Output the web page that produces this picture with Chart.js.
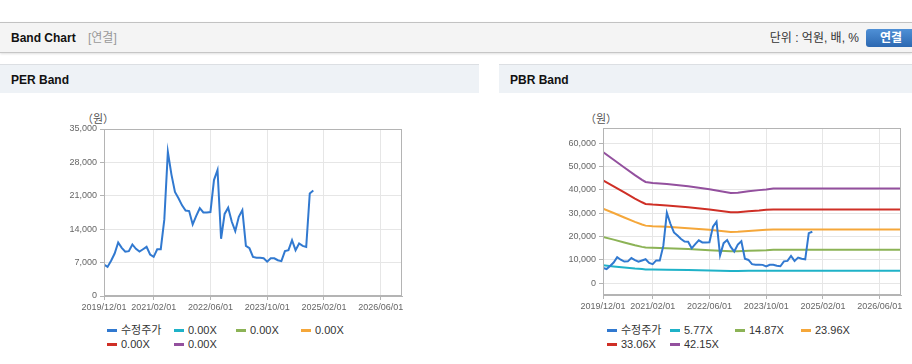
<!DOCTYPE html>
<html>
<head>
<meta charset="utf-8">
<script src="https://cdn.jsdelivr.net/npm/chart.js@4.4.1/dist/chart.umd.min.js"></script>
<style>
    body { margin: 0; width: 912px; height: 364px; position: relative; overflow: hidden; background: #fff;
           font-family: "Liberation Sans", Arial, "Noto Sans CJK KR", sans-serif; color: #222; }
    .abs { position: absolute; }
    .hdr { left: 0; top: 22px; width: 912px; height: 29px; background: #f4f4f4;
           border-top: 1px solid #c2c2c2; border-bottom: 1px solid #c6c6c6; box-shadow: 0 1px 2px rgba(0,0,0,0.12); }
    .hdr .ttl { position: absolute; left: 11px; top: 0; line-height: 30px; font-size: 12px; font-weight: bold; color: #111; }
    .hdr .sub { position: absolute; left: 88px; top: 0; line-height: 30px; font-size: 12px; color: #999; }
    .hdr .unit { position: absolute; right: 53px; top: 0; line-height: 30px; font-size: 12px; color: #333; }
    .hdr .btn { position: absolute; left: 866px; top: 6px; width: 50px; height: 18px; border-radius: 3px;
                background: linear-gradient(#4f90d6, #2c68b1); color: #fff; font-size: 12px; font-weight: bold;
                line-height: 18px; text-align: left; padding-left: 14px; box-sizing: border-box; }
    .ph { top: 64px; height: 28px; background: #eef2f6; border-top: 1px solid #dcdfe3; }
    .ph span { position: absolute; left: 11px; top: 0; line-height: 30px; font-size: 12px; font-weight: bold; color: #111; }
    .unitlbl { font-size: 11px; color: #555; top: 110px; }
    .lg { display: grid; font-size: 11px; color: #333; }
    .lg div { height: 14px; line-height: 14px; white-space: nowrap; }
    .lg i { display: inline-block; width: 10px; height: 3px; margin-right: 4px; vertical-align: middle; position: relative; top: -1px; }
</style>
</head>
<body>
<div class="abs hdr">
    <span class="ttl">Band Chart</span><span class="sub">[연결]</span>
    <span class="unit">단위 : 억원, 배, %</span>
    <div class="btn">연결</div>
</div>
<div class="abs ph" style="left:0; width:479px;"><span>PER Band</span></div>
<div class="abs ph" style="left:499px; width:413px;"><span>PBR Band</span></div>

<div class="abs unitlbl" style="left:82px;">（원）</div>
<div class="abs unitlbl" style="left:585px;">（원）</div>

<canvas id="perChart" class="abs" width="360" height="216" style="left:60px; top:100px;"></canvas>
<canvas id="pbrChart" class="abs" width="353" height="215" style="left:559px; top:100px;"></canvas>

<div id="perLegend" class="abs lg" style="left:107px; top:323px; grid-template-columns: 67px 62px 65px 65px;"></div>
<div id="pbrLegend" class="abs lg" style="left:607px; top:323px; grid-template-columns: 63px 65px 66px 66px;"></div>

<script>
// x axis = months since 2019/12
const xTickMonths = [0, 14, 30, 46, 62, 78];
const xTickLabels = ["2019/12/01", "2021/02/01", "2022/06/01", "2023/10/01", "2025/02/01", "2026/06/01"];

// 수정주가, monthly from 2019/12 to 2024/11
const price = [
    6600, 6100, 7400, 8900, 11200, 10100, 9300, 9400, 10800, 9900,
    9300, 9800, 10300, 8700, 8200, 9800, 9800, 16000, 30200, 25500,
    21800, 20500, 19000, 17900, 17800, 15000, 16800, 18400, 17500, 17500,
    17600, 24300, 26400, 12000, 17200, 18500, 15600, 13600, 16600, 18000,
    10500, 10000, 8200, 8000, 8000, 7900, 7200, 7900, 7900, 7500,
    7300, 9400, 9600, 11700, 9600, 11000, 10500, 10300, 21500, 22100
];

// PBR band lines, read at these months
const bandMonths = [0, 3, 6, 9, 11, 12, 14, 18, 24, 30, 36, 38, 41, 44, 46, 48, 84];
const pbr577 = [7700, 7200, 6800, 6300, 6100, 5900, 5900, 5800, 5700, 5500, 5300, 5300, 5400, 5400, 5400, 5400, 5400];
const pbr1487 = [19800, 18700, 17500, 16300, 15600, 15300, 15200, 15000, 14700, 14200, 13700, 13700, 13900, 14100, 14200, 14400, 14400];
const pbr2396 = [32000, 30100, 28200, 26300, 25200, 24700, 24400, 24200, 23600, 22900, 22000, 22100, 22400, 22700, 22900, 23000, 23000];
const pbr3306 = [44100, 41500, 38900, 36300, 34700, 34000, 33700, 33300, 32600, 31600, 30400, 30400, 30900, 31200, 31500, 31600, 31600];
const pbr4215 = [56200, 52900, 49600, 46300, 44300, 43400, 43000, 42500, 41600, 40300, 38700, 38800, 39400, 39900, 40200, 40600, 40600];

const perBandLabels = ["0.00X", "0.00X", "0.00X", "0.00X", "0.00X"];
const pbrBandLabels = ["5.77X", "14.87X", "23.96X", "33.06X", "42.15X"];

const perYTicks = [0, 7000, 14000, 21000, 28000, 35000];
const pbrYTicks = [0, 10000, 20000, 30000, 40000, 50000, 60000];

const colors = ["#3179d0", "#1fb2c8", "#8cb356", "#f5a73a", "#cf2f26", "#93509e"];
const fontFamily = "'Liberation Sans', Arial, sans-serif";

const toPoints = (months, values) => values.map((v, i) => ({ x: months[i], y: v }));
const priceMonths = price.map((v, i) => i);

// frame around the plot area
const plotBorder = {
    id: "plotBorder",
    afterDraw(chart) {
        const { ctx, chartArea: a } = chart;
        ctx.save();
        ctx.strokeStyle = "#b4b4b4";
        ctx.lineWidth = 1;
        ctx.strokeRect(Math.round(a.left) + 0.5, Math.round(a.top) + 0.5,
            Math.round(a.right - a.left) - 1, Math.round(a.bottom - a.top) - 1);
        ctx.restore();
    }
};

function makeChart(id, bandLabels, bandValues, yMin, yMax, yTicks, padTop, padRight) {
    const datasets = [{
        label: "수정주가",
        data: toPoints(priceMonths, price),
        borderColor: colors[0]
    }];
    bandLabels.forEach((lbl, i) => {
        datasets.push({
            label: lbl,
            data: bandValues ? toPoints(bandMonths, bandValues[i]) : [],
            borderColor: colors[i + 1]
        });
    });
    datasets.forEach(d => {
        d.borderWidth = 2;
        d.pointRadius = 0;
        d.tension = 0;
        d.fill = false;
        d.backgroundColor = d.borderColor;
    });

    return new Chart(document.getElementById(id), {
        type: "line",
        data: { datasets },
        options: {
            responsive: false,
            animation: false,
            layout: { padding: { top: padTop, right: padRight, left: 0, bottom: 0 } },
            plugins: { legend: { display: false }, tooltip: { enabled: false } },
            scales: {
                x: {
                    type: "linear",
                    min: 0,
                    max: 84,
                    afterBuildTicks: s => { s.ticks = xTickMonths.map(v => ({ value: v })); },
                    afterFit: s => { s.height = 20; },
                    ticks: {
                        autoSkip: false,
                        maxRotation: 0,
                        padding: 2,
                        color: "#666",
                        font: { size: 9, family: fontFamily },
                        callback: v => xTickLabels[xTickMonths.indexOf(v)]
                    },
                    grid: { color: "#e6e6e6", tickLength: 4, tickColor: "#b4b4b4" },
                    border: { color: "#b4b4b4" }
                },
                y: {
                    min: yMin,
                    max: yMax,
                    afterBuildTicks: s => { s.ticks = yTicks.map(v => ({ value: v })); },
                    afterFit: s => { s.width = 44; },
                    ticks: {
                        padding: 3,
                        color: "#666",
                        font: { size: 9, family: fontFamily },
                        callback: v => v.toLocaleString("en-US")
                    },
                    grid: { color: "#e6e6e6", tickLength: 4, tickColor: "#b4b4b4" },
                    border: { color: "#b4b4b4" }
                }
            }
        },
        plugins: [plotBorder]
    });
}

function buildLegend(chart, elId) {
    const box = document.getElementById(elId);
    chart.data.datasets.forEach(d => {
        const item = document.createElement("div");
        const sw = document.createElement("i");
        sw.style.background = d.borderColor;
        item.appendChild(sw);
        item.appendChild(document.createTextNode(d.label));
        box.appendChild(item);
    });
}

const perChart = makeChart("perChart", perBandLabels, null, 0, 35000, perYTicks, 29, 18);
const pbrChart = makeChart("pbrChart", pbrBandLabels, [pbr577, pbr1487, pbr2396, pbr3306, pbr4215],
    -5000, 66500, pbrYTicks, 28, 11);

buildLegend(perChart, "perLegend");
buildLegend(pbrChart, "pbrLegend");
</script>
</body>
</html>
